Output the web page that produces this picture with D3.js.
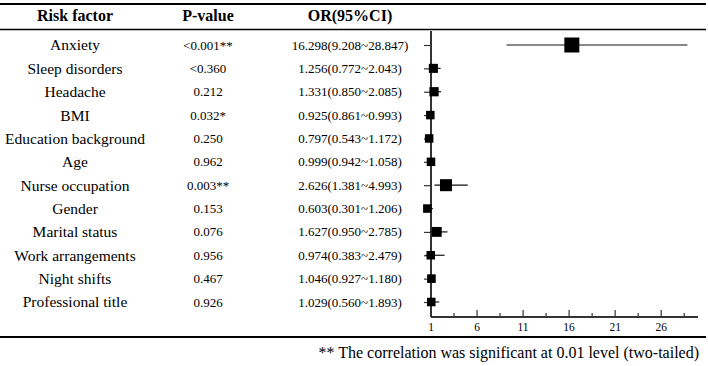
<!DOCTYPE html>
<html>
<head>
<meta charset="utf-8">
<script src="https://cdn.jsdelivr.net/npm/d3@7"></script>
<style>
  body { margin: 0; background: #fff; }
  svg text { font-family: "Liberation Serif", Tinos, "Times New Roman", Times, serif; fill: #000; }
</style>
</head>
<body>
<svg id="chart" width="708" height="366"></svg>
<script>
// table data
const factors = ["Anxiety", "Sleep disorders", "Headache", "BMI", "Education background", "Age",
  "Nurse occupation", "Gender", "Marital status", "Work arrangements", "Night shifts", "Professional title"];
const pValues = ["<0.001**", "<0.360", "0.212", "0.032*", "0.250", "0.962",
  "0.003**", "0.153", "0.076", "0.956", "0.467", "0.926"];
const orValues = [16.298, 1.256, 1.331, 0.925, 0.797, 0.999, 2.626, 0.603, 1.627, 0.974, 1.046, 1.029];
const ciLow = [9.208, 0.772, 0.850, 0.861, 0.543, 0.942, 1.381, 0.301, 0.950, 0.383, 0.927, 0.560];
const ciHigh = [28.847, 2.043, 2.085, 0.993, 1.172, 1.058, 4.993, 1.206, 2.785, 2.479, 1.180, 1.893];
const xTicks = [1, 6, 11, 16, 21, 26];
const headers = ["Risk factor", "P-value", "OR(95%CI)"];
const footnote = "** The correlation was significant at 0.01 level (two-tailed)";

const rows = factors.map((f, i) => ({
  name: f, p: pValues[i], or: orValues[i], lo: ciLow[i], hi: ciHigh[i]
}));

const svg = d3.select("#chart");

const y = d3.scalePoint().domain(factors).range([45, 302]);
const x = d3.scaleLinear().domain([1, 30]).range([431, 698]);
const size = d3.scaleLinear().domain([1, 2.6, 16.3]).range([8.5, 12, 15]).clamp(true);

const colX = [75, 208, 350];

// table rules
svg.append("line").attr("x1", 0).attr("x2", 706).attr("y1", 4).attr("y2", 4)
  .attr("stroke", "#000").attr("stroke-width", 2.2);
svg.append("line").attr("x1", 0).attr("x2", 706).attr("y1", 29.5).attr("y2", 29.5)
  .attr("stroke", "#000").attr("stroke-width", 1.5);
svg.append("line").attr("x1", 0).attr("x2", 706).attr("y1", 337).attr("y2", 337)
  .attr("stroke", "#000").attr("stroke-width", 2.2);

// headers
svg.selectAll(".hdr").data(headers).join("text")
  .attr("class", "hdr")
  .attr("x", (d, i) => colX[i]).attr("y", 21)
  .attr("text-anchor", "middle")
  .style("font-size", "16px").style("font-weight", "bold")
  .text(d => d);

// table body
const row = svg.selectAll(".row").data(rows).join("g")
  .attr("class", "row")
  .attr("transform", d => `translate(0,${y(d.name)})`);

row.append("text").attr("x", colX[0]).attr("dy", "0.35em")
  .attr("text-anchor", "middle").style("font-size", "15.5px").text(d => d.name);
row.append("text").attr("x", colX[1]).attr("dy", "0.35em")
  .attr("text-anchor", "middle").style("font-size", "13px").text(d => d.p);
row.append("text").attr("x", colX[2]).attr("dy", "0.35em")
  .attr("text-anchor", "middle").style("font-size", "13px")
  .text(d => `${d.or.toFixed(3)}(${d.lo.toFixed(3)}~${d.hi.toFixed(3)})`);

// forest plot axes
const yAxis = d3.axisLeft(y).tickSize(7).tickFormat("");
const gy = svg.append("g").attr("transform", `translate(${x(1)},0)`).call(yAxis);
gy.select(".domain").remove();
gy.selectAll("line").attr("stroke", "#333").attr("stroke-width", 1.2);
svg.append("line").attr("x1", x(1)).attr("x2", x(1)).attr("y1", 31).attr("y2", 317)
  .attr("stroke", "#333").attr("stroke-width", 2);

const xMinor = d3.range(3.5, 30, 5);
const gx = svg.append("g").attr("transform", "translate(0,317)");
gx.append("line").attr("x1", x(1)).attr("x2", x(30)).attr("stroke", "#333").attr("stroke-width", 2);
gx.selectAll(".major").data(xTicks).join("line").attr("class", "major")
  .attr("x1", d => x(d)).attr("x2", d => x(d)).attr("y1", 0).attr("y2", -7)
  .attr("stroke", "#333").attr("stroke-width", 1.2);
gx.selectAll(".minor").data(xMinor).join("line").attr("class", "minor")
  .attr("x1", d => x(d)).attr("x2", d => x(d)).attr("y1", 0).attr("y2", -4)
  .attr("stroke", "#333").attr("stroke-width", 1.2);
gx.selectAll(".tl").data(xTicks).join("text").attr("class", "tl")
  .attr("x", d => x(d)).attr("y", 14).attr("text-anchor", "middle")
  .style("font-size", "11.5px").text(d => d);

// CI lines and squares
const marks = svg.selectAll(".mk").data(rows).join("g").attr("class", "mk")
  .attr("transform", d => `translate(0,${y(d.name)})`);
marks.append("line").attr("x1", d => x(d.lo)).attr("x2", d => x(d.hi))
  .attr("stroke", "#111").attr("stroke-width", 1.2);
marks.append("rect")
  .attr("x", d => x(d.or) - size(d.or) / 2).attr("y", d => -size(d.or) / 2)
  .attr("width", d => size(d.or)).attr("height", d => size(d.or))
  .attr("fill", "#000");

// footnote
svg.append("text").attr("x", 699).attr("y", 358).attr("text-anchor", "end")
  .style("font-size", "16px").text(footnote);
</script>
</body>
</html>
